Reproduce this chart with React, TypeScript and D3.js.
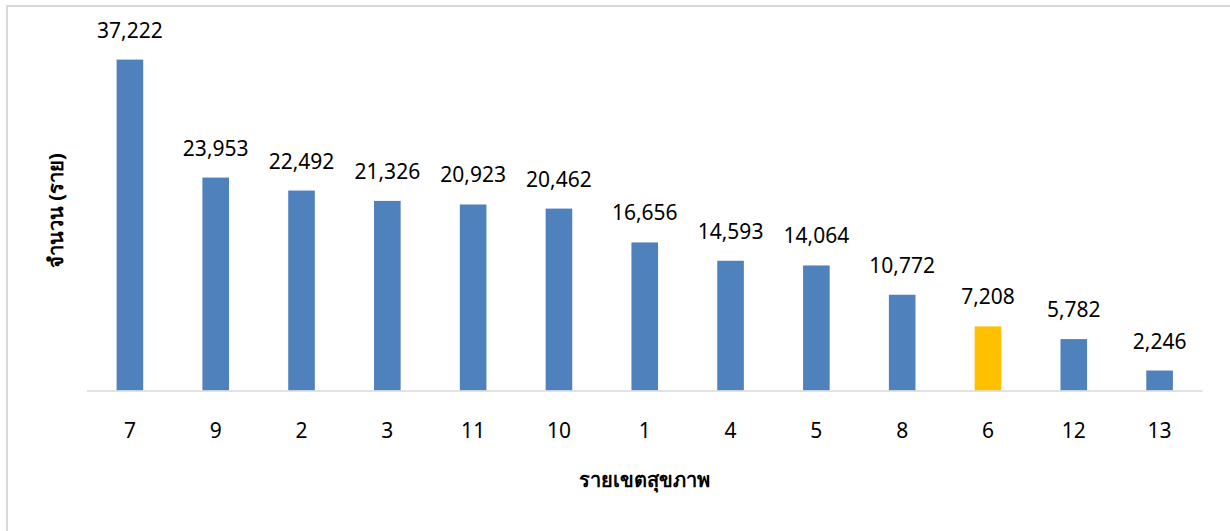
import React, { useEffect, useRef } from "react";
import * as d3 from "d3";

const categories = ["7", "9", "2", "3", "11", "10", "1", "4", "5", "8", "6", "12", "13"];
const values = [37222, 23953, 22492, 21326, 20923, 20462, 16656, 14593, 14064, 10772, 7208, 5782, 2246];
const highlight = "6";
const xTitle = "รายเขตสุขภาพ";
const yTitle = "จำนวน (ราย)";

const W = 1230;
const H = 531;
const FONT = "'Noto Sans', 'DejaVu Sans', sans-serif";

export default function App() {
  const ref = useRef<SVGSVGElement>(null);

  useEffect(() => {
    const svg = d3.select(ref.current);
    svg.selectAll("*").remove();

    const left = 87, right = 1202.5, baseY = 390.5;
    const x = d3.scaleBand<string>().domain(categories).range([left, right]).paddingInner(0.69).paddingOuter(0.345);
    const y = d3.scaleLinear().domain([0, 40000]).range([baseY, baseY - 355.6]);

    svg.append("rect").attr("width", W).attr("height", H).attr("fill", "#fff");
    svg.append("rect")
      .attr("x", 7).attr("y", 6).attr("width", W + 20).attr("height", H + 20)
      .attr("fill", "none").attr("stroke", "#d9d9d9").attr("stroke-width", 2);

    const data = categories.map((c, i) => ({ c, v: values[i] }));

    svg.append("g").selectAll("rect").data(data).join("rect")
      .attr("x", d => x(d.c)!)
      .attr("y", d => y(d.v))
      .attr("width", x.bandwidth())
      .attr("height", d => baseY - y(d.v))
      .attr("fill", d => (d.c === highlight ? "#FFC000" : "#4F81BD"));

    svg.append("line")
      .attr("x1", left).attr("x2", right).attr("y1", baseY + 0.5).attr("y2", baseY + 0.5)
      .attr("stroke", "#d9d9d9").attr("stroke-width", 1.5);

    const fmt = d3.format(",");
    svg.append("g").selectAll("text").data(data).join("text")
      .attr("x", d => x(d.c)! + x.bandwidth() / 2)
      .attr("y", d => y(d.v) - 22)
      .attr("text-anchor", "middle")
      .attr("font-family", FONT).attr("font-size", 21).attr("fill", "#000")
      .text(d => fmt(d.v));

    const axis = d3.axisBottom(x).tickSize(0).tickPadding(0);
    const ax = svg.append("g").attr("transform", `translate(0,${baseY})`).call(axis);
    ax.select(".domain").remove();
    ax.selectAll("text")
      .attr("y", 47).attr("dy", null)
      .attr("font-family", FONT).attr("font-size", 21).attr("fill", "#000");

    svg.append("text")
      .attr("x", (left + right) / 2).attr("y", 487)
      .attr("text-anchor", "middle")
      .attr("font-family", FONT).attr("font-size", 20).attr("font-weight", "bold").attr("fill", "#000")
      .text(xTitle);

    svg.append("text")
      .attr("transform", `translate(63,210.5) rotate(-90)`)
      .attr("text-anchor", "middle")
      .attr("font-family", FONT).attr("font-size", 20).attr("font-weight", "bold").attr("fill", "#000")
      .text(yTitle);
  }, []);

  return (
    <svg ref={ref} width={W} height={H} style={{ position: "absolute", left: 0, top: 0, display: "block" }} />
  );
}
